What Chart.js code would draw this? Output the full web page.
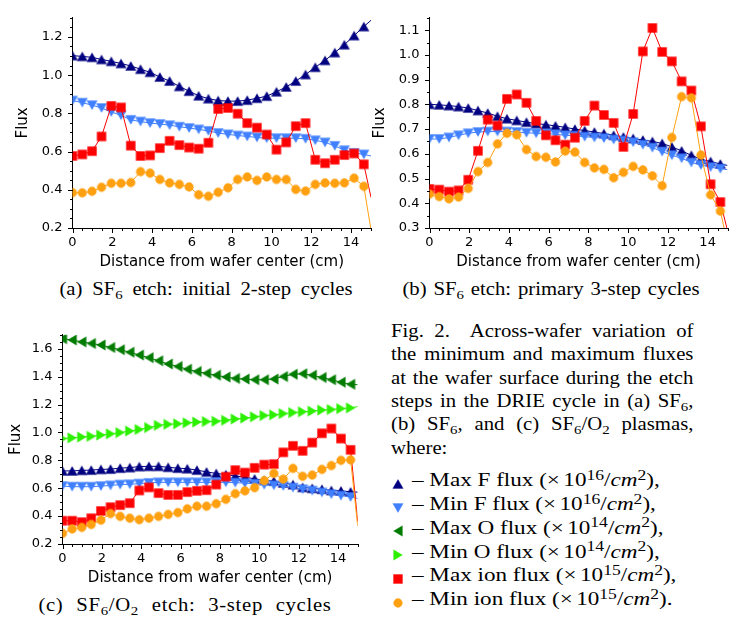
<!DOCTYPE html>
<html>
<head>
<meta charset="utf-8">
<script src="https://cdn.jsdelivr.net/npm/chart.js@4.4.1/dist/chart.umd.min.js"></script>
<style>
  body { margin: 0; width: 749px; height: 620px; background: #fff; position: relative; overflow: hidden; }
  canvas { position: absolute; }
  .serif { position: absolute; font-family: "Liberation Serif", "Times New Roman", serif; color: #000; line-height: 0; white-space: nowrap; }
  .cap { font-size: 18px; text-align: center; width: 400px; transform: scaleX(1.15); transform-origin: 50% 0; }
  .txt { font-size: 18.5px; transform: scaleX(1.12); transform-origin: 0 0; }
  .ley { font-size: 19.6px; transform: scaleX(1.18); transform-origin: 0 0; }
  .just { width: 270px; text-align: justify; text-align-last: justify; }
  .sub { position: relative; top: 0.28em; font-size: 0.72em; }
  .sup { position: relative; top: -0.42em; font-size: 0.76em; }
  .mk { position: absolute; }
</style>
</head>
<body>
<canvas id="chartA"></canvas>
<canvas id="chartB"></canvas>
<canvas id="chartC"></canvas>

<div class="serif cap" style="left:6px; top:289px; word-spacing:4px;">(a) SF<span class="sub">6</span> etch: initial 2-step cycles</div>
<div class="serif cap" style="left:351px; top:289px; word-spacing:1.5px;">(b) SF<span class="sub">6</span> etch: primary 3-step cycles</div>
<div class="serif cap" style="left:-15px; top:605px; word-spacing:6px; letter-spacing:0.6px;">(c) SF<span class="sub">6</span>/O<span class="sub">2</span> etch: 3-step cycles</div>

<div class="serif txt just" style="left:391px; top:331px;">Fig. 2.&nbsp; Across-wafer variation of</div>
<div class="serif txt just" style="left:391px; top:354.4px;">the minimum and maximum fluxes</div>
<div class="serif txt just" style="left:391px; top:377.8px;">at the wafer surface during the etch</div>
<div class="serif txt just" style="left:391px; top:401px;">steps in the DRIE cycle in (a) SF<span class="sub">6</span>,</div>
<div class="serif txt just" style="left:391px; top:424.4px;">(b) SF<span class="sub">6</span>, and (c) SF<span class="sub">6</span>/O<span class="sub">2</span> plasmas,</div>
<div class="serif txt" style="left:391px; top:447.8px;">where:</div>

<div id="legend"></div>

<script>
// distance from wafer center (cm), shared by every series
const distance = [0, 0.49, 0.98, 1.46, 1.95, 2.44, 2.93, 3.42, 3.9, 4.39, 4.88, 5.37, 5.86, 6.34, 6.83, 7.32,
                  7.81, 8.3, 8.78, 9.27, 9.76, 10.25, 10.74, 11.22, 11.71, 12.2, 12.69, 13.18, 13.66, 14.15, 14.64, 15];

// (a) SF6 etch: initial 2-step cycles
const aMaxF = [1.102, 1.098, 1.093, 1.082, 1.072, 1.061, 1.048, 1.031, 1.015, 0.990, 0.969, 0.941, 0.916, 0.892, 0.877, 0.867,
               0.864, 0.864, 0.869, 0.879, 0.890, 0.913, 0.938, 0.969, 1.003, 1.041, 1.077, 1.118, 1.159, 1.207, 1.254, 1.287];
const aMinF = [0.867, 0.856, 0.843, 0.828, 0.807, 0.790, 0.766, 0.757, 0.749, 0.744, 0.738, 0.730, 0.723, 0.716, 0.708, 0.697,
               0.690, 0.684, 0.679, 0.674, 0.670, 0.670, 0.670, 0.670, 0.667, 0.659, 0.648, 0.630, 0.607, 0.593, 0.585, 0.577];
const aMaxIon = [0.577, 0.585, 0.602, 0.679, 0.839, 0.831, 0.631, 0.577, 0.580, 0.618, 0.656, 0.634, 0.621, 0.615, 0.646, 0.823,
                 0.828, 0.798, 0.749, 0.725, 0.689, 0.610, 0.648, 0.733, 0.749, 0.557, 0.539, 0.557, 0.582, 0.590, 0.533, 0.36];
const aMinIon = [0.385, 0.384, 0.392, 0.413, 0.434, 0.434, 0.438, 0.495, 0.487, 0.454, 0.436, 0.428, 0.415, 0.374, 0.366, 0.387,
                 0.410, 0.454, 0.467, 0.449, 0.467, 0.454, 0.454, 0.402, 0.393, 0.428, 0.436, 0.434, 0.436, 0.461, 0.418, 0.19];

// (b) SF6 etch: primary 3-step cycles
const bMaxF = [0.800, 0.798, 0.795, 0.791, 0.785, 0.775, 0.765, 0.752, 0.742, 0.735, 0.728, 0.722, 0.718, 0.713, 0.707, 0.700,
               0.694, 0.688, 0.682, 0.675, 0.668, 0.662, 0.656, 0.650, 0.642, 0.628, 0.612, 0.594, 0.578, 0.569, 0.559, 0.553];
const bMinF = [0.660, 0.660, 0.666, 0.675, 0.683, 0.688, 0.690, 0.690, 0.690, 0.688, 0.685, 0.683, 0.682, 0.679, 0.675, 0.673,
               0.669, 0.666, 0.663, 0.658, 0.654, 0.647, 0.637, 0.625, 0.609, 0.594, 0.582, 0.565, 0.555, 0.546, 0.540, 0.536];
const bMaxIon = [0.458, 0.455, 0.447, 0.452, 0.495, 0.612, 0.738, 0.714, 0.822, 0.840, 0.806, 0.733, 0.675, 0.655, 0.637, 0.665,
                 0.733, 0.795, 0.757, 0.725, 0.628, 0.761, 1.014, 1.109, 1.012, 0.974, 0.893, 0.856, 0.711, 0.477, 0.405, 0.29];
const bMinIon = [0.437, 0.427, 0.418, 0.425, 0.460, 0.528, 0.565, 0.640, 0.683, 0.677, 0.617, 0.589, 0.586, 0.567, 0.611, 0.607,
                 0.565, 0.543, 0.537, 0.503, 0.525, 0.549, 0.535, 0.511, 0.471, 0.666, 0.831, 0.826, 0.595, 0.434, 0.368, 0.24];

// (c) SF6/O2 etch: 3-step cycles
const cMaxF = [0.724, 0.724, 0.728, 0.730, 0.735, 0.737, 0.744, 0.748, 0.755, 0.757, 0.757, 0.750, 0.744, 0.740, 0.730, 0.717,
               0.706, 0.697, 0.688, 0.679, 0.667, 0.656, 0.651, 0.638, 0.626, 0.606, 0.599, 0.593, 0.584, 0.581, 0.574, 0.572];
const cMinF = [0.615, 0.611, 0.611, 0.611, 0.615, 0.620, 0.626, 0.628, 0.633, 0.638, 0.642, 0.642, 0.642, 0.642, 0.642, 0.642,
               0.642, 0.642, 0.640, 0.636, 0.632, 0.625, 0.621, 0.616, 0.605, 0.593, 0.583, 0.570, 0.557, 0.547, 0.537, 0.527];
const cMaxO = [1.672, 1.663, 1.649, 1.638, 1.627, 1.609, 1.593, 1.575, 1.555, 1.536, 1.514, 1.491, 1.473, 1.453, 1.437, 1.424,
               1.410, 1.397, 1.387, 1.383, 1.378, 1.378, 1.383, 1.401, 1.417, 1.421, 1.410, 1.394, 1.378, 1.360, 1.345, 1.342];
const cMinO = [0.956, 0.961, 0.967, 0.972, 0.981, 0.990, 0.999, 1.010, 1.021, 1.035, 1.051, 1.058, 1.062, 1.069, 1.074, 1.078,
               1.080, 1.087, 1.096, 1.103, 1.112, 1.121, 1.126, 1.135, 1.142, 1.148, 1.153, 1.160, 1.164, 1.171, 1.176, 1.185];
const cMaxIon = [0.367, 0.367, 0.357, 0.385, 0.437, 0.464, 0.479, 0.493, 0.584, 0.606, 0.565, 0.552, 0.552, 0.572, 0.581, 0.586,
                 0.626, 0.683, 0.730, 0.712, 0.746, 0.769, 0.773, 0.857, 0.904, 0.868, 0.927, 0.994, 1.028, 0.956, 0.875, 0.36];
const cMinIon = [0.276, 0.308, 0.319, 0.340, 0.371, 0.418, 0.398, 0.385, 0.374, 0.385, 0.398, 0.412, 0.425, 0.452, 0.471, 0.471,
                 0.489, 0.520, 0.561, 0.581, 0.604, 0.654, 0.706, 0.665, 0.742, 0.685, 0.694, 0.735, 0.762, 0.800, 0.803, 0.33];

// series look (same in every panel and in the legend text)
const estilos = {
    maxF:   { color: '#000080', shape: 'up',     label: 'Max F flux',   exp: '16' },
    minF:   { color: '#4080ff', shape: 'down',   label: 'Min F flux',   exp: '16' },
    maxO:   { color: '#007c00', shape: 'left',   label: 'Max O flux',   exp: '14' },
    minO:   { color: '#2cf000', shape: 'right',  label: 'Min O flux',   exp: '14' },
    maxIon: { color: '#ff0000', shape: 'square', label: 'Max ion flux', exp: '15' },
    minIon: { color: '#ffa010', shape: 'circle', label: 'Min ion flux', exp: '15' }
};

Chart.defaults.font.family = 'DejaVu Sans';
Chart.defaults.color = '#000';

function hexAlpha(hex, a) {
    const n = parseInt(hex.slice(1), 16);
    return `rgba(${(n >> 16) & 255}, ${(n >> 8) & 255}, ${n & 255}, ${a})`;
}

function trazarForma(g, shape, c) {
    g.beginPath();
    if (shape === 'up') { g.moveTo(c, c - 4.4); g.lineTo(c - 5.2, c + 4.4); g.lineTo(c + 5.2, c + 4.4); g.closePath(); }
    else if (shape === 'down') { g.moveTo(c, c + 4.4); g.lineTo(c - 5.2, c - 4.4); g.lineTo(c + 5.2, c - 4.4); g.closePath(); }
    else if (shape === 'left') { g.moveTo(c - 4.4, c); g.lineTo(c + 4.4, c - 5.2); g.lineTo(c + 4.4, c + 5.2); g.closePath(); }
    else if (shape === 'right') { g.moveTo(c + 4.4, c); g.lineTo(c - 4.4, c - 5.2); g.lineTo(c - 4.4, c + 5.2); g.closePath(); }
    else if (shape === 'square') { g.rect(c - 4.5, c - 4.5, 9, 9); }
    else { g.arc(c, c, 4.4, 0, Math.PI * 2); }
}

// small canvas used as the point style of a series
function crearMarcador(shape, color) {
    const cv = document.createElement('canvas');
    cv.width = 14; cv.height = 14;
    const g = cv.getContext('2d');
    trazarForma(g, shape, 7);
    g.fillStyle = color;
    g.fill();
    g.lineWidth = 1;
    g.strokeStyle = hexAlpha(color, 0.35);
    g.stroke();
    return cv;
}

// draws major and minor tick marks outside the plot area
const marcasEje = {
    id: 'marcasEje',
    afterDraw(chart, args, opts) {
        const { ctx, chartArea, scales: { x, y } } = chart;
        ctx.save();
        ctx.strokeStyle = '#000';
        ctx.lineWidth = 1;
        ctx.beginPath();
        const nx = Math.round((x.max - x.min) / opts.xMinor);
        for (let k = 0; k <= nx; k++) {
            const v = x.min + k * opts.xMinor;
            const px = Math.round(x.getPixelForValue(v)) + 0.5;
            const mayor = Math.abs(v / opts.xMajor - Math.round(v / opts.xMajor)) < 1e-6;
            ctx.moveTo(px, Math.round(chartArea.bottom));
            ctx.lineTo(px, Math.round(chartArea.bottom) + (mayor ? 5 : 3));
        }
        const ny = Math.round((y.max - y.min) / opts.yMinor);
        for (let k = 0; k <= ny; k++) {
            const v = y.min + k * opts.yMinor;
            const py = Math.round(y.getPixelForValue(v)) + 0.5;
            const mayor = Math.abs(v / opts.yMajor - Math.round(v / opts.yMajor)) < 1e-6;
            ctx.moveTo(Math.round(chartArea.left), py);
            ctx.lineTo(Math.round(chartArea.left) - (mayor ? 5 : 3), py);
        }
        ctx.stroke();
        ctx.restore();
    }
};

function crearGrafico(id, geo, yMin, yMax, yMajor, series) {
    const cv = document.getElementById(id);
    cv.width = geo.w;
    cv.height = geo.h;
    cv.style.left = geo.left + 'px';
    cv.style.top = geo.top + 'px';
    const anchoEjeY = geo.plotLeft - geo.left;
    const altoEjeX = geo.top + geo.h - geo.plotBottom;
    const ultimo = distance.length - 1;

    new Chart(cv, {
        type: 'line',
        data: {
            datasets: series.map((s, i) => ({
                label: estilos[s.key].label,
                data: distance.map((d, k) => ({ x: d, y: s.values[k] })),
                borderColor: estilos[s.key].color,
                borderWidth: 1,
                pointStyle: crearMarcador(estilos[s.key].shape, estilos[s.key].color),
                pointRadius: c => (c.dataIndex === ultimo ? 0 : 5),
                tension: 0,
                order: series.length - i
            }))
        },
        options: {
            responsive: false,
            animation: false,
            events: [],
            layout: {
                padding: { left: 0, top: geo.plotTop - geo.top, right: geo.left + geo.w - geo.plotRight, bottom: 0 }
            },
            plugins: {
                legend: { display: false },
                tooltip: { enabled: false },
                marcasEje: { xMinor: 0.5, xMajor: 2, yMinor: 0.05, yMajor: yMajor }
            },
            scales: {
                x: {
                    type: 'linear', min: 0, max: 15,
                    afterFit: s => { s.height = altoEjeX; },
                    grid: { display: false, drawTicks: false },
                    border: { display: true, color: '#000', width: 1 },
                    ticks: { stepSize: 2, includeBounds: false, padding: 7, maxRotation: 0, autoSkip: false,
                             font: { size: 13 }, color: '#000' },
                    title: { display: true, text: 'Distance from wafer center (cm)', font: { size: 15 }, color: '#000',
                             padding: { top: 0, bottom: geo.top + geo.h - (geo.plotBottom + 39 - 5.2) - 9 } }
                },
                y: {
                    type: 'linear', min: yMin, max: yMax,
                    afterFit: s => { s.width = anchoEjeY; },
                    grid: { display: false, drawTicks: false },
                    border: { display: true, color: '#000', width: 1 },
                    ticks: { stepSize: yMajor, includeBounds: false, padding: 10, font: { size: 13 }, color: '#000',
                             callback: v => v.toFixed(1) },
                    title: { display: true, text: 'Flux', font: { size: 15 }, color: '#000',
                             padding: { top: geo.fluxX - geo.left - 9, bottom: 0 } }
                }
            }
        },
        plugins: [marcasEje]
    });
}

crearGrafico('chartA',
    { left: 0, top: 0, w: 380, h: 275, plotLeft: 72.5, plotRight: 371, plotTop: 5, plotBottom: 228, fluxX: 23 },
    0.2, 1.3, 0.2,
    [{ key: 'maxF', values: aMaxF }, { key: 'minF', values: aMinF },
     { key: 'maxIon', values: aMaxIon }, { key: 'minIon', values: aMinIon }]);

crearGrafico('chartB',
    { left: 360, top: 0, w: 389, h: 275, plotLeft: 429.5, plotRight: 727.5, plotTop: 5, plotBottom: 228, fluxX: 380 },
    0.3, 1.15, 0.1,
    [{ key: 'maxF', values: bMaxF }, { key: 'minF', values: bMinF },
     { key: 'maxIon', values: bMaxIon }, { key: 'minIon', values: bMinIon }]);

crearGrafico('chartC',
    { left: 0, top: 317, w: 370, h: 274, plotLeft: 62.5, plotRight: 357.7, plotTop: 322, plotBottom: 544, fluxX: 16 },
    0.2, 1.7, 0.2,
    [{ key: 'maxF', values: cMaxF }, { key: 'minF', values: cMinF },
     { key: 'maxO', values: cMaxO }, { key: 'minO', values: cMinO },
     { key: 'maxIon', values: cMaxIon }, { key: 'minIon', values: cMinIon }]);

// legend lines of the figure caption
function llenarLeyenda() {
    const cont = document.getElementById('legend');
    const claves = ['maxF', 'minF', 'maxO', 'minO', 'maxIon', 'minIon'];
    claves.forEach((clave, i) => {
        const e = estilos[clave];
        const base = 486.7 + i * 23.8;
        const mk = crearMarcador(e.shape, e.color);
        mk.className = 'mk';
        mk.style.left = (398 - 7) + 'px';
        mk.style.top = (base - 3 - 7) + 'px';
        cont.appendChild(mk);
        const div = document.createElement('div');
        div.className = 'serif ley';
        div.style.left = '412px';
        div.style.top = (base - 6.6) + 'px';
        const fin = i === claves.length - 1 ? '.' : ',';
        div.innerHTML = `– ${e.label} (×<span style="margin-left:0.15em">10</span><span class="sup">${e.exp}</span>/<i>cm</i><span class="sup">2</span>)${fin}`;
        cont.appendChild(div);
    });
}
llenarLeyenda();
</script>
</body>
</html>
